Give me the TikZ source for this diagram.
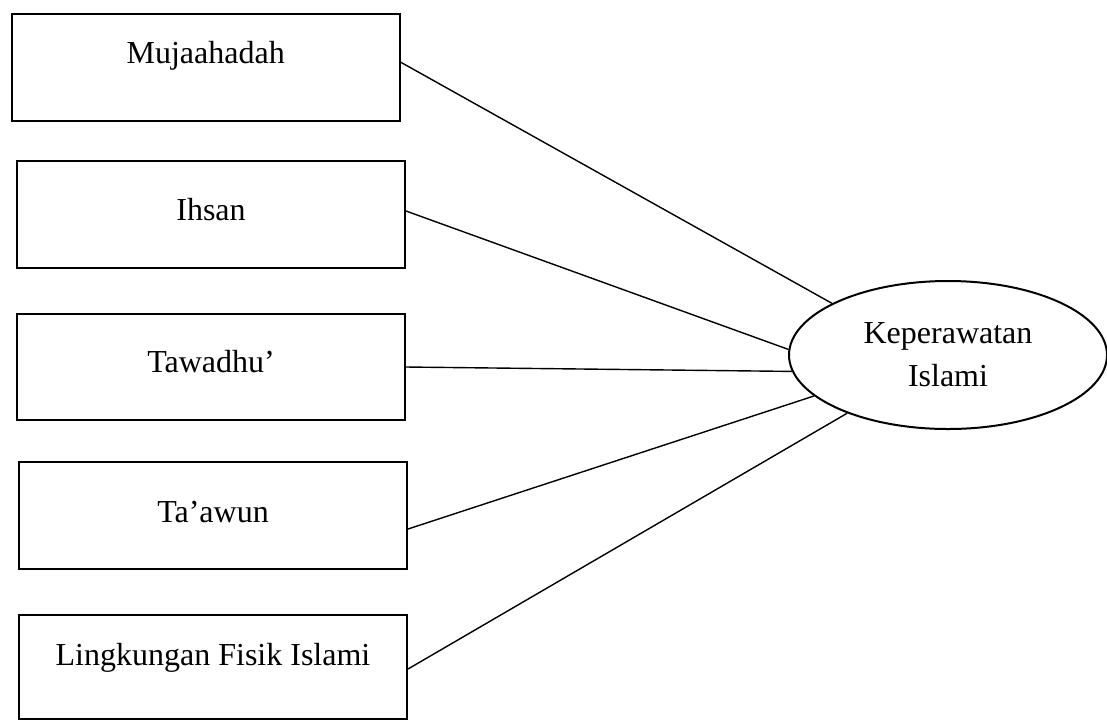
\documentclass[tikz,border=0pt]{standalone}
\usepackage{fontspec}
\setmainfont{Liberation Serif}
\usepackage{tikz}
\usetikzlibrary{shapes,arrows}

\begin{document}
\begin{tikzpicture}[faktor/.style={draw, line width=1pt, minimum width=194pt, inner sep=0pt, anchor=north west},
				ziel/.style={draw, ellipse, line width=1pt, minimum width=159pt, minimum height=74pt, inner sep=0pt, align=center},
				verbindung/.style={line width=0.7pt},
				x=0.5pt, y=-0.5pt,
				font=\fontsize{16}{21.5}\selectfont]
				%Bildbereich festlegen
				\useasboundingbox (0,0) rectangle (1107,719);
				% Kaesten links
				\node[faktor, text height=25pt, text depth=28.5pt] (muj) at (10.7,12.7) {Mujaahadah};
				\node[faktor, text height=29.5pt, text depth=24pt] (ihs) at (16,160) {Ihsan};
				\node[faktor, text height=29pt, text depth=24pt] (taw) at (16,313) {Tawadhu’};
				\node[faktor, text height=30pt, text depth=23.5pt] (taa) at (18,461) {Ta’awun};
				\node[faktor, text height=25pt, text depth=27pt] (lfi) at (18,614) {Lingkungan Fisik Islami};
				% Ellipse rechts
				\node[ziel] (kep) at (948,355) {Keperawatan\\Islami};
				% Verbindungen zeichnen
				\foreach \von/\dy/\winkel in {muj/2.5/156, ihs/1.75/178, taw/0/186, taa/-6.75/197, lfi/-1/210}
					\draw[verbindung] ([yshift=\dy pt]\von.east) -- (kep.\winkel);
			\end{tikzpicture}
\end{document}
